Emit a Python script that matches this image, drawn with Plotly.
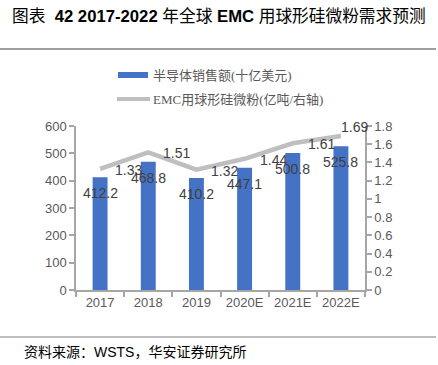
import plotly.graph_objects as go

categories = ["2017", "2018", "2019", "2020E", "2021E", "2022E"]
sales = [412.2, 468.8, 410.2, 447.1, 500.8, 525.8]
emc = [1.33, 1.51, 1.32, 1.44, 1.61, 1.69]
sales_labels = ["412.2", "468.8", "410.2", "447.1", "500.8", "525.8"]
emc_labels = ["1.33", "1.51", "1.32", "1.44", "1.61", "1.69"]
left_ticks = [0, 100, 200, 300, 400, 500, 600]
right_ticks = [0, 0.2, 0.4, 0.6, 0.8, 1, 1.2, 1.4, 1.6, 1.8]
right_tick_text = ["0", "0.2", "0.4", "0.6", "0.8", "1", "1.2", "1.4", "1.6", "1.8"]

W, H = 438, 365
L, R, T, B = 76, 73, 126, 75
PW, PH = W - L - R, H - T - B

def px(x):
    return (x - L) / PW

def py(y):
    return (H - B - y) / PH

BLUE = "#4472C4"
GRAY = "#BFBFBF"
AX = "#A6A6A6"
TXT = "#404040"
FONT = "Liberation Sans, Arial, Noto Sans CJK SC"
CJK = "Liberation Serif, Noto Sans CJK SC"

fig = go.Figure()
fig.add_trace(go.Bar(x=categories, y=sales, marker=dict(color=BLUE, line=dict(width=0)),
                     width=0.31, name="半导体销售额(十亿美元)", yaxis="y"))
fig.add_trace(go.Scatter(x=categories, y=emc, mode="lines", line=dict(color=GRAY, width=4.5),
                         name="EMC用球形硅微粉(亿吨/右轴)", yaxis="y2"))

ann = []
for i, (v, t) in enumerate(zip(sales, sales_labels)):
    ann.append(dict(x=i, y=v, xref="x", yref="y", text=t, showarrow=False,
                    xanchor="center", yanchor="middle", yshift=-16,
                    font=dict(family=FONT, size=14, color=TXT)))
for i, (v, t) in enumerate(zip(emc, emc_labels)):
    last = i == len(categories) - 1
    ann.append(dict(x=i, y=v, xref="x", yref="y2", text=t, showarrow=False,
                    xanchor="left", yanchor="middle",
                    xshift=-2 if last else 13, yshift=9 if last else -1,
                    font=dict(family=FONT, size=14, color=TXT)))

# title and source
ann.append(dict(x=px(10), y=py(16), xref="paper", yref="paper", xanchor="left", yanchor="middle",
                text="图表  <b>42 2017-2022</b> 年全球 <b>EMC</b> 用球形硅微粉需求预测", showarrow=False,
                font=dict(family=FONT, size=16.7, color="#000000")))
ann.append(dict(x=px(22), y=py(352), xref="paper", yref="paper", xanchor="left", yanchor="middle",
                text="资料来源：WSTS，华安证券研究所", showarrow=False,
                font=dict(family=FONT, size=14, color="#000000")))
# custom legend text
ann.append(dict(x=px(151), y=py(75), xref="paper", yref="paper", xanchor="left", yanchor="middle",
                text="半导体销售额(十亿美元)", showarrow=False,
                font=dict(family=CJK, size=13, color="#595959")))
ann.append(dict(x=px(151), y=py(99), xref="paper", yref="paper", xanchor="left", yanchor="middle",
                text="EMC用球形硅微粉(亿吨/右轴)", showarrow=False,
                font=dict(family=CJK, size=13, color="#595959")))

shapes = [
    dict(type="line", xref="paper", yref="paper", x0=px(0), x1=px(436), y0=py(49), y1=py(49),
         line=dict(color="#9E9E9E", width=2)),
    dict(type="line", xref="paper", yref="paper", x0=px(0), x1=px(436), y0=py(337), y1=py(337),
         line=dict(color="#7F7F7F", width=1)),
    dict(type="rect", xref="paper", yref="paper", x0=px(118), x1=px(148), y0=py(72), y1=py(78),
         fillcolor=BLUE, line=dict(width=0)),
    dict(type="line", xref="paper", yref="paper", x0=px(117), x1=px(150), y0=py(99), y1=py(99),
         line=dict(color=GRAY, width=4)),
]

fig.update_layout(
    width=W, height=H,
    margin=dict(l=L, r=R, t=T, b=B, pad=0),
    paper_bgcolor="white", plot_bgcolor="white",
    showlegend=False,
    annotations=ann, shapes=shapes,
    font=dict(family=FONT, size=13, color="#595959"),
    xaxis=dict(type="category", showgrid=False, showline=True, linecolor=AX, linewidth=1.5,
               ticks="outside", tickson="boundaries", ticklen=5, tickcolor=AX, tickwidth=1.5,
               tickfont=dict(size=13, color="#595959"), range=[-0.5, 5.5]),
    yaxis=dict(range=[0, 600], tickvals=left_ticks, showgrid=False, zeroline=False, showline=True,
               linecolor=AX, linewidth=1.5, ticks="outside", ticklen=5, tickcolor=AX, tickwidth=1.5,
               tickfont=dict(size=13, color="#595959")),
    yaxis2=dict(range=[0, 1.8], tickvals=right_ticks, ticktext=right_tick_text, overlaying="y",
                side="right", showgrid=False, zeroline=False, showline=True, linecolor=AX,
                linewidth=1.5, ticks="outside", ticklen=5, tickcolor=AX, tickwidth=1.5,
                tickfont=dict(size=13, color="#595959")),
)

fig.write_html("out.html", config={"displayModeBar": False},
               post_script="document.body.style.margin='0';document.body.style.overflow='hidden';")
